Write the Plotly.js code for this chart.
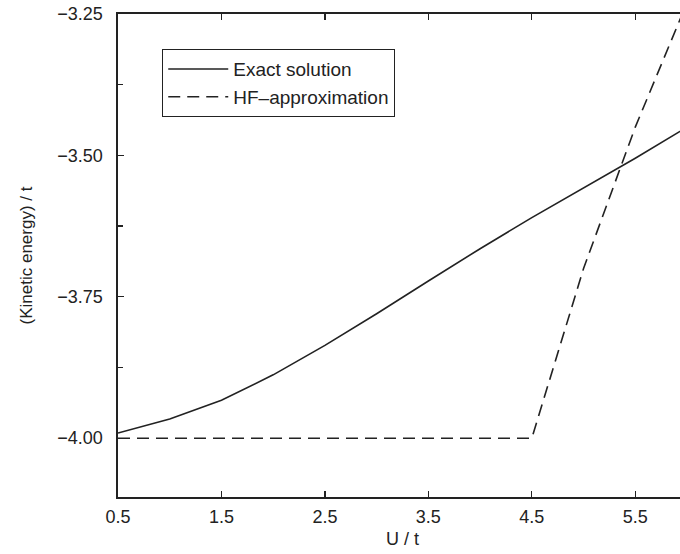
<!DOCTYPE html>
<html>
<head>
<meta charset="utf-8">
<script src="https://cdn.plot.ly/plotly-3.0.1.min.js"></script>
<style>
html, body { margin: 0; padding: 0; width: 680px; height: 554px; overflow: hidden; background: #fff; }
#chart { width: 720px; height: 554px; }
</style>
</head>
<body>
<div id="chart"></div>
<script>
// U / t values
const uValues = [0.5, 1.0, 1.5, 2.0, 2.5, 3.0, 3.5, 4.0, 4.5, 5.0, 5.5, 6.0];
// Kinetic energy / t, exact solution
const exactEnergy = [-3.991, -3.966, -3.933, -3.888, -3.836, -3.780, -3.722, -3.665, -3.610, -3.558, -3.505, -3.450];
// Kinetic energy / t, Hartree-Fock approximation
const hfEnergy = [-4.0, -4.0, -4.0, -4.0, -4.0, -4.0, -4.0, -4.0, -4.0, -3.70, -3.45, -3.23];
const seriesNames = ['Exact solution', 'HF\u2013approximation'];
const xTicks = [0.5, 1.5, 2.5, 3.5, 4.5, 5.5];
const yTicks = [-4.00, -3.75, -3.50, -3.25];

const ink = '#222';
const fontFamily = '"Liberation Sans", Arial, Helvetica, sans-serif';

const traces = [
  { x: uValues, y: exactEnergy, name: seriesNames[0], mode: 'lines',
    line: { color: ink, width: 1.6, dash: 'solid' } },
  { x: uValues, y: hfEnergy, name: seriesNames[1], mode: 'lines',
    line: { color: ink, width: 1.6, dash: '12px,7px' } }
];

const layout = {
  width: 720, height: 554,
  margin: { l: 118, r: 33, t: 14, b: 57 },
  paper_bgcolor: '#fff', plot_bgcolor: '#fff',
  font: { family: fontFamily, color: ink, size: 18 },
  showlegend: true,
  legend: {
    x: 0.0774, y: 0.9275, xanchor: 'left', yanchor: 'top',
    bgcolor: '#fff', bordercolor: ink, borderwidth: 1.2,
    font: { family: fontFamily, size: 19, color: ink },
    itemwidth: 60, tracegroupgap: 0
  },
  xaxis: {
    range: [0.5, 6.0], tickvals: xTicks, ticktext: xTicks.map(v => v.toFixed(1)),
    ticks: 'inside', ticklen: 6, tickwidth: 1.2, tickcolor: ink,
    showline: true, linecolor: ink, linewidth: 1.6, mirror: 'ticks',
    showgrid: false, zeroline: false,
    tickfont: { size: 18 }, ticklabelstandoff: 3,
    title: { text: 'U / t', font: { size: 18 }, standoff: 6 }
  },
  yaxis: {
    range: [-4.104, -3.25], tickvals: yTicks, ticktext: yTicks.map(v => (v < 0 ? '\u2212' : '') + Math.abs(v).toFixed(2)),
    ticks: 'inside', ticklen: 6, tickwidth: 1.2, tickcolor: ink,
    minor: { dtick: 0.125, tick0: -4.0, ticks: 'inside', ticklen: 5, tickwidth: 1.2, tickcolor: ink },
    showline: true, linecolor: ink, linewidth: 1.6, mirror: 'ticks',
    showgrid: false, zeroline: false,
    tickfont: { size: 18 }, ticklabelstandoff: 10,
    title: { text: '(Kinetic energy) / t', font: { size: 17 }, standoff: 20 }
  }
};

Plotly.newPlot('chart', traces, layout, { displayModeBar: false, staticPlot: true });
</script>
</body>
</html>
